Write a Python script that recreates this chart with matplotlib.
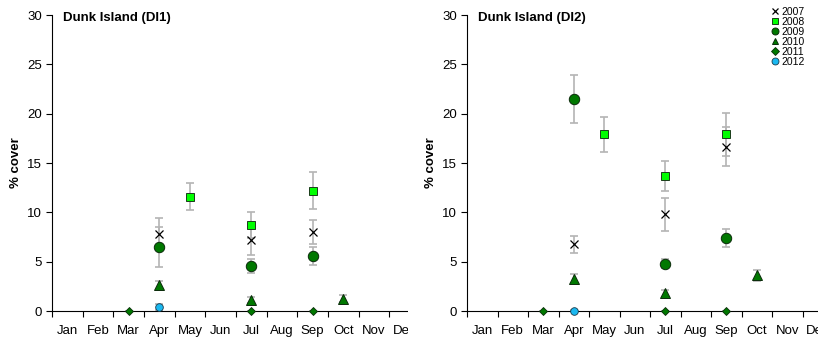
import matplotlib.pyplot as plt
from matplotlib.lines import Line2D
from matplotlib.patches import Rectangle

plt.rcParams['font.family'] = ['Liberation Sans', 'DejaVu Sans']

months = ['Jan', 'Feb', 'Mar', 'Apr', 'May', 'Jun', 'Jul', 'Aug', 'Sep', 'Oct', 'Nov', 'Dec']
years = ['2007', '2008', '2009', '2010', '2011', '2012']

# site DI1: month -> value, error
di1_2007_m = ['Apr', 'Jul', 'Sep']
di1_2007_v = [7.8, 7.2, 8.0]
di1_2007_e = [1.6, 1.5, 1.2]
di1_2008_m = ['May', 'Jul', 'Sep']
di1_2008_v = [11.6, 8.7, 12.2]
di1_2008_e = [1.4, 1.35, 1.9]
di1_2009_m = ['Apr', 'Jul', 'Sep']
di1_2009_v = [6.5, 4.6, 5.6]
di1_2009_e = [2.05, 0.7, 0.9]
di1_2010_m = ['Apr', 'Jul', 'Oct']
di1_2010_v = [2.6, 1.15, 1.25]
di1_2010_e = [0.45, 0.3, 0.35]
di1_2011_m = ['Mar', 'Jul', 'Sep']
di1_2011_v = [0.05, 0.0, 0.0]
di1_2011_e = [0.0, 0.0, 0.0]
di1_2012_m = ['Apr']
di1_2012_v = [0.4]
di1_2012_e = [0.3]

# site DI2
di2_2007_m = ['Apr', 'Jul', 'Sep']
di2_2007_v = [6.75, 9.8, 16.65]
di2_2007_e = [0.9, 1.7, 1.95]
di2_2008_m = ['May', 'Jul', 'Sep']
di2_2008_v = [17.9, 13.7, 17.9]
di2_2008_e = [1.75, 1.55, 2.2]
di2_2009_m = ['Apr', 'Jul', 'Sep']
di2_2009_v = [21.5, 4.8, 7.4]
di2_2009_e = [2.45, 0.45, 0.9]
di2_2010_m = ['Apr', 'Jul', 'Oct']
di2_2010_v = [3.25, 1.8, 3.6]
di2_2010_e = [0.45, 0.35, 0.55]
di2_2011_m = ['Mar', 'Jul', 'Sep']
di2_2011_v = [0.0, 0.0, 0.0]
di2_2011_e = [0.0, 0.0, 0.0]
di2_2012_m = ['Apr']
di2_2012_v = [0.05]
di2_2012_e = [0.1]

# marker style per year
styles = {
    '2007': dict(marker='x', ms=5.5, mfc='black', mec='black', mew=0.9),
    '2008': dict(marker='s', ms=6, mfc='#00ff00', mec='#1a3a1a', mew=0.7),
    '2009': dict(marker='o', ms=7.5, mfc='#007800', mec='#0a2a0a', mew=0.7),
    '2010': dict(marker='^', ms=6.5, mfc='#007800', mec='#0a2a0a', mew=0.7),
    '2011': dict(marker='D', ms=4.2, mfc='#007800', mec='#0a2a0a', mew=0.6),
    '2012': dict(marker='o', ms=5.5, mfc='#1ab8f0', mec='#1a3a4a', mew=0.6),
}


def month_pos(ms):
    return [months.index(m) + 0.5 for m in ms]


def draw_panel(ax, title, series):
    for yr, (ms, vals, errs) in zip(years, series):
        ax.errorbar(month_pos(ms), vals, yerr=errs, fmt='none', ecolor='#b4b4b4',
                    elinewidth=1.2, capsize=3, capthick=1.2, zorder=2)
        ax.plot(month_pos(ms), vals, linestyle='none', zorder=3,
                clip_on=False, **styles[yr])
    ax.set_xlim(0, 12)
    ax.set_ylim(0, 30)
    ax.set_yticks(range(0, 31, 5))
    ax.set_xticks(range(0, 13))
    ax.set_xticklabels([])
    ax.set_xticks([i + 0.5 for i in range(12)], minor=True)
    ax.set_xticklabels(months, minor=True)
    ax.tick_params(axis='x', which='minor', length=0, labelsize=9.5, pad=10)
    ax.tick_params(axis='x', which='major', length=4, width=0.8, direction='out')
    ax.tick_params(axis='y', length=4, width=0.8, labelsize=9.5, pad=3)
    ax.spines['top'].set_visible(False)
    ax.spines['right'].set_visible(False)
    ax.set_ylabel('% cover', fontsize=9.5, fontweight='bold', labelpad=4)
    ax.text(0.03, 0.99, title, transform=ax.transAxes, fontsize=9.5,
            fontweight='bold', va='center', ha='left')


fig = plt.figure(figsize=(8.18, 3.42), dpi=100)

ax1 = fig.add_axes([52 / 818, 31 / 342, 368 / 818, 296 / 342], zorder=0)
draw_panel(ax1, 'Dunk Island (DI1)', [
    (di1_2007_m, di1_2007_v, di1_2007_e),
    (di1_2008_m, di1_2008_v, di1_2008_e),
    (di1_2009_m, di1_2009_v, di1_2009_e),
    (di1_2010_m, di1_2010_v, di1_2010_e),
    (di1_2011_m, di1_2011_v, di1_2011_e),
    (di1_2012_m, di1_2012_v, di1_2012_e),
])

# white cover so the right panel hides the end of the left one
fig.patches.append(Rectangle((408 / 818, 0), 1, 1, transform=fig.transFigure,
                             facecolor='white', edgecolor='none', zorder=0.5))

ax2 = fig.add_axes([467 / 818, 31 / 342, 366 / 818, 296 / 342], zorder=1)
draw_panel(ax2, 'Dunk Island (DI2)', [
    (di2_2007_m, di2_2007_v, di2_2007_e),
    (di2_2008_m, di2_2008_v, di2_2008_e),
    (di2_2009_m, di2_2009_v, di2_2009_e),
    (di2_2010_m, di2_2010_v, di2_2010_e),
    (di2_2011_m, di2_2011_v, di2_2011_e),
    (di2_2012_m, di2_2012_v, di2_2012_e),
])

# legend with smaller markers than in the plot
handles = []
for yr in years:
    st = dict(styles[yr])
    st['ms'] = min(st['ms'], 5)
    handles.append(Line2D([], [], linestyle='none', **st))
fig.legend(handles, years, loc='upper left', bbox_to_anchor=(770 / 818, 1 - 5 / 342),
           frameon=False, fontsize=7.5, handlelength=0.6, handletextpad=0.3,
           labelspacing=0.0, borderpad=0.2, borderaxespad=0)

fig.savefig('out.png', dpi=100)
